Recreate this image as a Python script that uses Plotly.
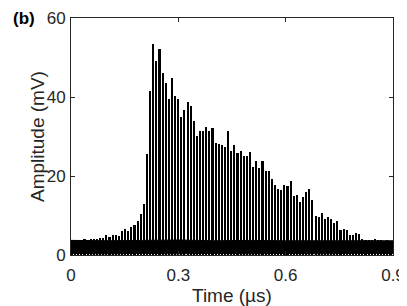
import plotly.graph_objects as go

# pulse train: first pulse time, pulse spacing (us), and peak amplitudes (mV)
t_first = 0.0036
t_step = 0.008726
peaks = [
    3.9, 3.8, 3.7, 3.9, 4.0, 3.8, 4.0, 4.0, 4.0, 4.3,
    4.3, 5.1, 4.5, 5.1, 5.0, 4.8, 6.0, 6.5, 6.2, 7.0,
    7.7, 8.5, 10.4, 13.0, 25.6, 41.4, 53.4, 49.0, 52.1, 46.2,
    43.5, 39.6, 44.7, 40.3, 39.6, 35.0, 36.7, 38.7, 37.7, 34.0,
    30.1, 31.5, 31.5, 32.5, 31.5, 32.2, 28.3, 28.1, 27.9, 27.4,
    31.5, 26.4, 27.8, 25.7, 26.4, 25.1, 25.1, 26.1, 22.4, 23.9,
    22.0, 23.7, 21.2, 21.3, 19.2, 17.8, 16.8, 16.5, 17.6, 17.5,
    18.7, 14.9, 15.1, 13.4, 14.8, 16.0, 16.6, 13.8, 9.9, 9.5,
    10.7, 9.2, 9.5, 9.0, 8.2, 8.5, 6.3, 6.7, 6.3, 5.1,
    5.0, 5.6, 5.3, 4.0, 3.8, 3.7, 3.8, 4.1, 3.8, 3.7,
    3.6, 3.8, 3.6,
]
times = [t_first + i * t_step for i in range(len(peaks))]

# baseline noise band (upper / lower edge, mV)
band_t = [0.0, 0.1, 0.2, 0.3, 0.4, 0.5, 0.6, 0.7, 0.8, 0.9]
band_hi = [3.7, 3.6, 3.7, 3.8, 3.6, 3.7, 3.6, 3.6, 3.5, 3.6]
band_lo = [0.4, 0.3, 0.4, 0.3, 0.4, 0.3, 0.4, 0.3, 0.4, 0.4]

fg = "#262626"
font = "Liberation Sans, Arial, sans-serif"
# page body has an 8px margin, so the figure is shrunk by that much
OFF = 8
W, H = 407 - OFF, 306 - OFF
L, R, T, B = 71 - OFF, 14, 18 - OFF, 51
pw, ph = W - L - R, H - T - B

fig = go.Figure()
fig.add_trace(go.Scatter(x=band_t, y=band_lo, mode="lines", line=dict(color="black", width=1),
                         showlegend=False, hoverinfo="skip"))
fig.add_trace(go.Scatter(x=band_t, y=band_hi, mode="lines", line=dict(color="black", width=1),
                         fill="tonexty", fillcolor="black", showlegend=False, hoverinfo="skip"))
fig.add_trace(go.Bar(x=times, y=peaks, width=0.0045, marker=dict(color="black", line=dict(width=0)),
                     showlegend=False))

axis_common = dict(showline=True, linecolor=fg, linewidth=1, mirror="ticks", ticks="inside",
                   ticklen=4, tickcolor=fg, showgrid=False, zeroline=False, automargin=False,
                   tickfont=dict(family=font, size=17, color=fg))
fig.update_xaxes(range=[0, 0.9], tickvals=[0, 0.3, 0.6, 0.9], ticktext=["0", "0.3", "0.6", "0.9"],
                 ticklabelstandoff=5, **axis_common)
fig.update_yaxes(range=[0, 60], tickvals=[0, 20, 40, 60], ticklabelstandoff=1, **axis_common)


def px_note(text, x, y, size, angle=0, color=fg):
    # x, y are page pixels
    fig.add_annotation(text=text, x=(x - OFF - L) / pw, y=1 - (y - OFF - T) / ph,
                       xref="paper", yref="paper", showarrow=False, textangle=angle,
                       xanchor="center", yanchor="middle",
                       font=dict(family=font, size=size, color=color))


px_note("Time (µs)", 232, 295, 19)
px_note("Amplitude (mV)", 37, 137, 19, angle=-90)
px_note("<b>(b)</b>", 24, 19, 17, color="black")

fig.update_layout(width=W, height=H, margin=dict(l=L, r=R, t=T, b=B),
                  plot_bgcolor="white", paper_bgcolor="white", bargap=0)

fig.write_html("out.html")
